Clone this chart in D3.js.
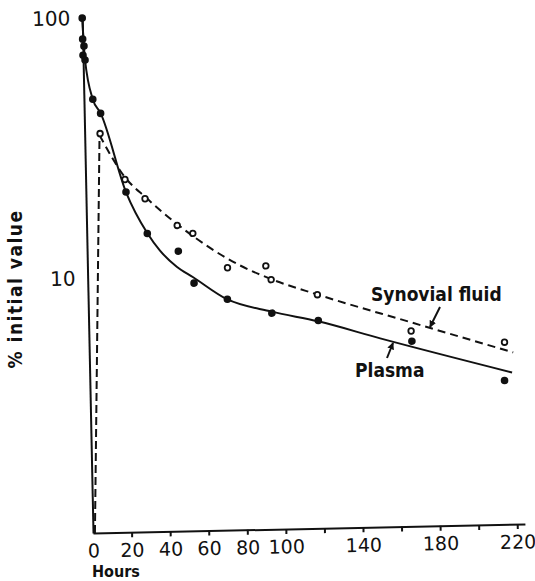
<!DOCTYPE html>
<html>
<head>
<meta charset="utf-8">
<script src="https://cdn.jsdelivr.net/npm/d3@7"></script>
<style>
  body { margin: 0; background: #fff; }
  svg { display: block; }
  text { fill: #111; }
</style>
</head>
<body>
<div id="chart"></div>
<script>
// measured points, hours vs % initial value
const plasmaHours  = [0, 0, 0.6, 0, 1, 4.6, 8.5, 20.8, 31.4, 47.3, 55.1, 72.2, 95.1, 119.1, 167.4, 215];
const plasmaValues = [100, 83, 78, 72, 69, 48.7, 42.9, 21.3, 14.7, 12.5, 9.4, 8.1, 7.1, 6.6, 5.4, 3.75];

const synovialHours  = [8.0, 20.4, 30.6, 47.0, 55.0, 72.6, 92.5, 95.1, 118.9, 167.1, 215.4];
const synovialValues = [35.9, 23.8, 20.0, 15.7, 14.6, 10.7, 10.8, 9.55, 8.29, 5.91, 5.26];

// fitted curves as drawn in the figure
const plasmaCurveHours  = [0, 1, 4.6, 8.5, 20.8, 31.3, 37.8, 46.3, 54.7, 72, 95, 119, 151, 219];
const plasmaCurveValues = [100, 69, 48.7, 43, 21.3, 14.8, 12.6, 10.9, 9.9, 8.1, 7.2, 6.55, 5.57, 4.02];

const synovialRiseHours  = [1, 7.7];
const synovialRiseValues = [1.05, 35.4];
const synovialCurveHours  = [7.7, 20.4, 31.1, 46.9, 79.1, 95.1, 119, 167.2, 219.8];
const synovialCurveValues = [35.4, 24.3, 20.2, 15.9, 10.9, 9.6, 8.3, 6.38, 4.80];

const xTicks = d3.range(0, 221, 20);
const xTickLabels = [0, 20, 40, 60, 80, 100, 140, 180, 220];
const yTickLabels = [10, 100];

const width = 535, height = 581;
const numFont = "'DejaVu Sans', sans-serif";
const labelFont = "'DejaVu Sans Condensed', 'DejaVu Sans', sans-serif";

const svg = d3.select("#chart")
    .append("svg")
    .attr("width", width)
    .attr("height", height);

// the printed plot sits slightly tilted on the page
const plot = svg.append("g")
    .attr("transform", "translate(93,533) rotate(-1.2)");

const x = d3.scaleLinear()
    .domain([0, 224])
    .range([0, 432]);

const y = d3.scaleLog()
    .domain([1.05, 100])
    .range([0, -515]);

// X axis
const xAxis = plot.append("g")
    .call(d3.axisBottom(x)
        .tickValues(xTicks)
        .tickSize(5)
        .tickSizeOuter(0)
        .tickPadding(6)
        .tickFormat(d => xTickLabels.includes(d) ? d : ""));
xAxis.select(".domain").attr("stroke", "#111").attr("stroke-width", 2);
xAxis.selectAll(".tick line").attr("stroke", "#111").attr("stroke-width", 2)
    .filter(d => d === 0).remove();
xAxis.selectAll(".tick text")
    .style("font-family", numFont)
    .style("font-size", "19px")
    .attr("fill", "#111");

// Y axis
const yAxis = plot.append("g")
    .call(d3.axisLeft(y)
        .tickValues(yTickLabels)
        .tickSize(0)
        .tickSizeOuter(0)
        .tickPadding(12)
        .tickFormat(d3.format("d")));
yAxis.select(".domain").attr("stroke", "#111").attr("stroke-width", 2);
yAxis.selectAll(".tick text")
    .style("font-family", numFont)
    .style("font-size", "20px")
    .attr("fill", "#111");

// curves
const line = d3.line()
    .x(d => x(d[0]))
    .y(d => y(d[1]))
    .curve(d3.curveMonotoneX);

plot.append("path")
    .datum(d3.zip(plasmaCurveHours, plasmaCurveValues))
    .attr("d", line)
    .attr("fill", "none")
    .attr("stroke", "#111")
    .attr("stroke-width", 2);

plot.append("path")
    .datum(d3.zip(synovialRiseHours, synovialRiseValues))
    .attr("d", line.curve(d3.curveLinear))
    .attr("fill", "none")
    .attr("stroke", "#111")
    .attr("stroke-width", 2)
    .attr("stroke-dasharray", "8,4");

plot.append("path")
    .datum(d3.zip(synovialCurveHours, synovialCurveValues))
    .attr("d", line.curve(d3.curveMonotoneX))
    .attr("fill", "none")
    .attr("stroke", "#111")
    .attr("stroke-width", 2)
    .attr("stroke-dasharray", "8,5");

// points
plot.selectAll(".plasma")
    .data(d3.zip(plasmaHours, plasmaValues))
    .enter()
    .append("circle")
    .attr("class", "plasma")
    .attr("cx", d => x(d[0]))
    .attr("cy", d => y(d[1]))
    .attr("r", 3.8)
    .attr("fill", "#111");

plot.selectAll(".synovial")
    .data(d3.zip(synovialHours, synovialValues))
    .enter()
    .append("circle")
    .attr("class", "synovial")
    .attr("cx", d => x(d[0]))
    .attr("cy", d => y(d[1]))
    .attr("r", 2.8)
    .attr("fill", "#fff")
    .attr("stroke", "#111")
    .attr("stroke-width", 1.8);

// labels
svg.append("defs").append("marker")
    .attr("id", "head")
    .attr("viewBox", "0 0 10 10")
    .attr("refX", 9).attr("refY", 5)
    .attr("markerWidth", 7).attr("markerHeight", 7)
    .attr("markerUnits", "userSpaceOnUse")
    .attr("orient", "auto")
    .append("path")
    .attr("d", "M0,0L10,5L0,10z")
    .attr("fill", "#111");

svg.append("text")
    .attr("x", 371).attr("y", 301)
    .style("font-family", labelFont)
    .style("font-weight", "bold")
    .style("font-size", "19px")
    .text("Synovial fluid");

svg.append("line")
    .attr("x1", 440).attr("y1", 307)
    .attr("x2", 430).attr("y2", 327)
    .attr("stroke", "#111").attr("stroke-width", 2)
    .attr("marker-end", "url(#head)");

svg.append("text")
    .attr("x", 355).attr("y", 377)
    .style("font-family", labelFont)
    .style("font-weight", "bold")
    .style("font-size", "19px")
    .text("Plasma");

svg.append("line")
    .attr("x1", 387).attr("y1", 358)
    .attr("x2", 393).attr("y2", 343)
    .attr("stroke", "#111").attr("stroke-width", 2)
    .attr("marker-end", "url(#head)");

svg.append("text")
    .attr("transform", "translate(22,289) rotate(-90)")
    .attr("text-anchor", "middle")
    .style("font-family", labelFont)
    .style("font-weight", "bold")
    .style("font-size", "19px")
    .style("letter-spacing", "1.5px")
    .text("% initial value");

svg.append("text")
    .attr("x", 92).attr("y", 577)
    .style("font-family", labelFont)
    .style("font-weight", "bold")
    .style("font-size", "16px")
    .text("Hours");
</script>
</body>
</html>
